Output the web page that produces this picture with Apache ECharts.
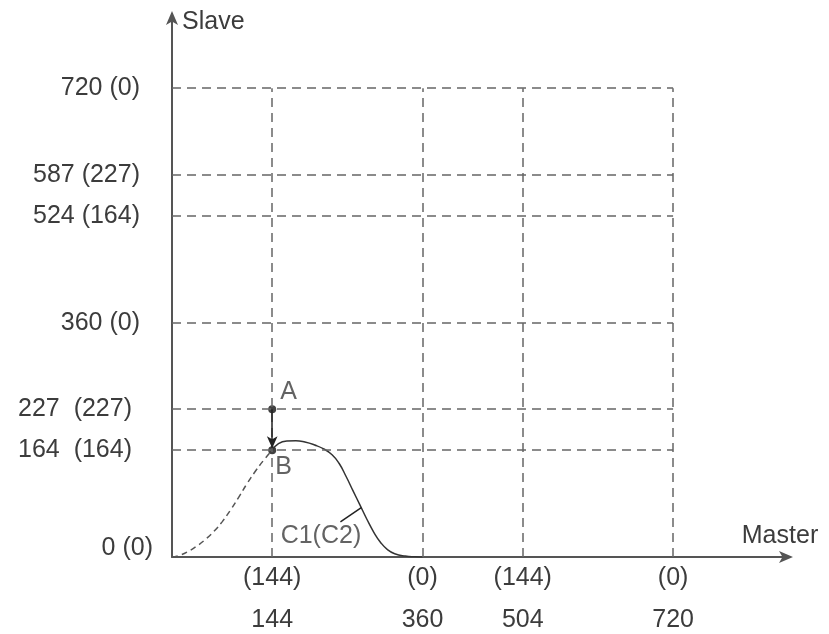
<!DOCTYPE html>
<html><head><meta charset="utf-8">
<script src="https://cdn.jsdelivr.net/npm/echarts@6/dist/echarts.min.js"></script>
<style>html,body{margin:0;padding:0;background:#fff}#c{width:829px;height:634px}</style>
</head><body><div id="c"></div>
<script>
const xTicks = [144, 360, 504, 720];
const xLabelsTop = ['(144)', '(0)', '(144)', '(0)'];
const xLabelsBottom = ['144', '360', '504', '720'];
const yTicks = [0, 164, 227, 360, 524, 587, 720];
const yLabels = ['0 (0)', '164  (164)', '227  (227)', '360 (0)', '524 (164)', '587 (227)', '720 (0)'];
const gridEnd = 720;
// cam curve: rising part (dashed) and solid part
const riseCurve = [[0,0],[12,3],[24,9],[36,17],[48,27],[60,39],[72,54],[84,72],[96,92],[108,113],[120,132],[132,149],[144,164]];
const mainCurve = [[144,164],[153,174],[165,178],[178,178.5],[191,176.5],[205,172],[218,166],[230,157],[240,144],[250,124],[260,102],[270,80],[280,58],[290,38],[300,22],[310,11],[320,5],[335,1.5],[350,0.3],[360,0]];
const pointNames = ['A', 'B'];
const pointX = [144, 144];
const pointY = [227, 164];
const curveLabel = 'C1(C2)';
const curveLabelPos = [214, 32];
const leaderFrom = [272, 76];
const leaderTo = [242, 54];

const FONT = 'Liberation Sans, Arial, sans-serif';
const TXT = '#3c3c3c';
const FS = 25;
const gridLines = [];
yTicks.filter(v => v > 0).forEach(v => gridLines.push([{coord:[0, v]}, {coord:[gridEnd, v]}]));
xTicks.forEach(v => gridLines.push([{coord:[v, 0]}, {coord:[v, gridEnd]}]));

const chart = echarts.init(document.getElementById('c'));
chart.setOption({
  animation: false,
  backgroundColor: '#fff',
  grid: {left: 172, right: 39, top: 14, bottom: 77, containLabel: false},
  xAxis: {
    type: 'value', min: 0, max: 888,
    name: 'Master', nameLocation: 'end', nameGap: -10,
    nameTextStyle: {color: TXT, fontSize: FS, fontFamily: FONT, align: 'center', verticalAlign: 'bottom', padding: [0, 0, 8, 0]},
    axisLine: {show: true, lineStyle: {color: '#555', width: 2}, symbol: ['none', 'arrow'], symbolSize: [9, 14], symbolOffset: [0, 3]},
    axisTick: {show: false},
    splitLine: {show: false},
    axisLabel: {
      customValues: xTicks, margin: 11, color: TXT, fontSize: FS, fontFamily: FONT, lineHeight: 21,
      formatter: v => { const i = xTicks.indexOf(v); return i < 0 ? '' : xLabelsTop[i] + '\n\n' + xLabelsBottom[i]; }
    }
  },
  yAxis: {
    type: 'value', min: 0, max: 834,
    name: 'Slave', nameLocation: 'end', nameGap: -8,
    nameTextStyle: {color: TXT, fontSize: FS, fontFamily: FONT, align: 'left', verticalAlign: 'middle', padding: [0, 0, 0, 10]},
    axisLine: {show: true, lineStyle: {color: '#555', width: 2}, symbol: ['none', 'arrow'], symbolSize: [9, 14], symbolOffset: [0, 3]},
    axisTick: {show: false},
    splitLine: {show: false},
    axisLabel: {
      customValues: yTicks, margin: 19, color: TXT, fontSize: FS, fontFamily: FONT,
      formatter: v => {
        const i = yTicks.indexOf(v);
        if (i < 0) return '';
        const style = v === 0 ? 'z' : (v === 164 || v === 227 ? 'n' : 'w');
        return '{' + style + '|' + yLabels[i] + '}';
      },
      rich: {
        z: {color: TXT, fontSize: FS, fontFamily: FONT, padding: [0, 0, 18, 0]},
        n: {color: TXT, fontSize: FS, fontFamily: FONT, padding: [0, 21, 0, 0]},
        w: {color: TXT, fontSize: FS, fontFamily: FONT, padding: [0, 13, 0, 0]}
      }
    }
  },
  series: [
    {
      type: 'line', data: [], silent: true,
      markLine: {
        silent: true, symbol: ['none', 'none'], label: {show: false},
        lineStyle: {color: '#666', width: 1.5, type: [9, 6]},
        data: gridLines
      }
    },
    {
      type: 'line', data: riseCurve, smooth: 0.5, showSymbol: false, silent: true,
      lineStyle: {color: '#555', width: 1.5, type: [6, 4]}
    },
    {
      type: 'line', data: mainCurve, smooth: 0.5, showSymbol: false, silent: true,
      lineStyle: {color: '#333', width: 1.5}
    },
    {
      type: 'line', data: [], silent: true,
      markLine: {
        silent: true, label: {show: false},
        data: [
          [{coord:[pointX[0], pointY[0]], symbol: 'none'}, {coord:[pointX[1], pointY[1] + 3], symbol: 'arrow', symbolSize: [8, 12]}],
          [{coord: leaderFrom, symbol: 'none'}, {coord: leaderTo, symbol: 'none'}]
        ],
        lineStyle: {color: '#222', width: 1.5, type: 'solid'}
      }
    },
    {
      type: 'scatter', symbolSize: 8, silent: true,
      itemStyle: {color: '#111'},
      data: pointNames.map((n, i) => ({
        value: [pointX[i], pointY[i]], name: n,
        label: i === 0 ? {offset: [0, -17]} : {offset: [-5, 17]}
      })),
      label: {show: true, position: 'right', distance: 4, formatter: p => p.name, color: TXT, fontSize: FS, fontFamily: FONT}
    },
    {
      type: 'scatter', symbolSize: 0, silent: true,
      data: [{value: curveLabelPos, name: curveLabel}],
      label: {show: true, position: 'inside', formatter: p => p.name, color: TXT, fontSize: FS, fontFamily: FONT}
    }
  ]
});
</script></body></html>
